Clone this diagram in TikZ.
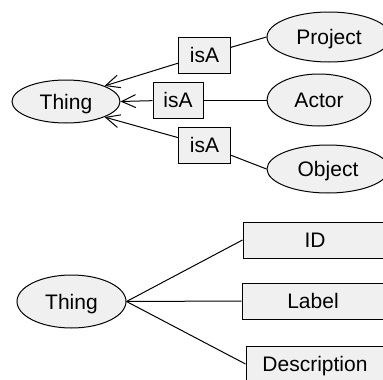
\documentclass[tikz,border=0pt]{standalone}
\usepackage{fontspec}
\setmainfont{Liberation Sans}
\usetikzlibrary{shapes.geometric,arrows.meta}
\definecolor{boxgray}{HTML}{F0F0F0}
\begin{document}
\begin{tikzpicture}[x=1pt,y=-1pt,
  every node/.style={font=\fontsize{21}{24}\selectfont, text height=15pt, text depth=0pt},
  ell/.style={ellipse, draw, fill=boxgray, inner sep=0pt, line width=1pt},
  rect/.style={rectangle, draw, fill=boxgray, inner sep=0pt, line width=1pt},
  link/.style={line width=1pt},
  isarrow/.style={link, -{Straight Barb[length=14pt,width=13pt,line width=1pt]}}
]
\useasboundingbox (0,0) rectangle (383,380);
\clip (0,0) rectangle (383,380);
% top part
\node[ell, minimum width=108pt, minimum height=43pt] (thingA) at (66,101.5) {Thing};
\node[ell, minimum width=124pt, minimum height=50pt] (project) at (329,37) {Project};
\node[ell, minimum width=104pt, minimum height=52pt] (actor) at (319,100) {Actor};
\node[ell, minimum width=122pt, minimum height=48pt] (object) at (328,169) {Object};
\node[rect, minimum width=52pt, minimum height=36pt] (isa1) at (204.5,55) {isA};
\node[rect, minimum width=50pt, minimum height=36pt] (isa2) at (178,100) {isA};
\node[rect, minimum width=52pt, minimum height=36pt] (isa3) at (204.5,145) {isA};
\draw[isarrow] (isa1) -- (thingA.north east);
\draw[isarrow] (isa2) -- (thingA.east);
\draw[isarrow] (isa3) -- (thingA.south east);
\draw[link] (isa1) -- (project.west);
\draw[link] (isa2) -- (actor.west);
\draw[link] (isa3) -- (object.west);
% bottom part
\node[ell, minimum width=109pt, minimum height=53pt] (thingB) at (71.5,301.5) {Thing};
\node[rect, minimum width=144pt, minimum height=36pt] (id) at (315,240) {ID};
\node[rect, minimum width=142pt, minimum height=36pt] (label) at (313,301) {Label};
\node[rect, minimum width=138pt, minimum height=36pt] (desc) at (315,364) {Description};
\draw[link] (thingB.east) -- (id.west);
\draw[link] (thingB.east) -- (label.west);
\draw[link] (thingB.east) -- (desc.west);
\end{tikzpicture}
\end{document}
